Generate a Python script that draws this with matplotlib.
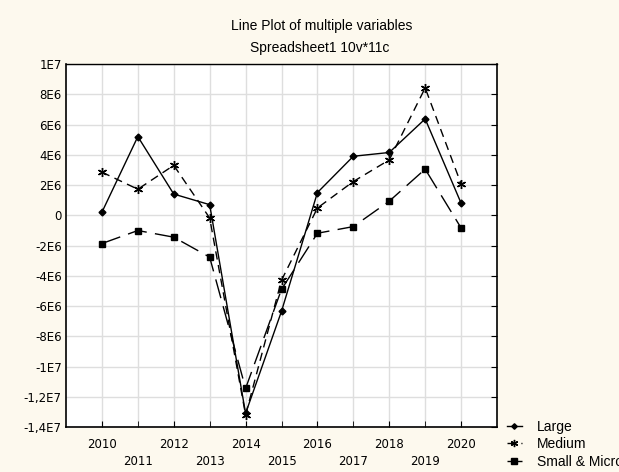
import matplotlib
matplotlib.use("Agg")
import matplotlib.pyplot as plt

plt.rcParams["font.family"] = ["Liberation Sans", "DejaVu Sans"]

years = [2010, 2011, 2012, 2013, 2014, 2015, 2016, 2017, 2018, 2019, 2020]
large = [0.2e6, 5.2e6, 1.4e6, 0.7e6, -13.1e6, -6.35e6, 1.5e6, 3.9e6, 4.15e6, 6.37e6, 0.8e6]
medium = [2.85e6, 1.72e6, 3.3e6, -0.18e6, -13.2e6, -4.3e6, 0.48e6, 2.23e6, 3.66e6, 8.42e6, 2.07e6]
small = [-1.87e6, -1.01e6, -1.45e6, -2.77e6, -11.45e6, -4.9e6, -1.19e6, -0.75e6, 0.93e6, 3.05e6, -0.84e6]
y_ticks = [1e7, 8e6, 6e6, 4e6, 2e6, 0, -2e6, -4e6, -6e6, -8e6, -1e7, -1.2e7, -1.4e7]
y_labels = ["1E7", "8E6", "6E6", "4E6", "2E6", "0", "-2E6", "-4E6", "-6E6", "-8E6",
            "-1E7", "-1,2E7", "-1,4E7"]

BG = "#fdf9ee"
TICK_FONT = "DejaVu Sans"

fig = plt.figure(figsize=(6.19, 4.72), dpi=100, facecolor=BG)
ax = fig.add_axes([66 / 619, 1 - 427 / 472, (497 - 66) / 619, (427 - 64) / 472])
ax.set_facecolor("white")

ax.plot(years, large, color="black", lw=1.0, marker="D", ms=3.5, label="Large")
ax.plot(years, medium, color="black", lw=1.0, ls=(0, (6, 4)), marker=(6, 2, 0), ms=6.5,
        mew=1.0, label="Medium")
ax.plot(years, small, color="black", lw=1.0, ls=(0, (14, 6)), marker="s", ms=5,
        label="Small & Micro")

ax.set_xlim(2009, 2021)
ax.set_ylim(-1.4e7, 1e7)
ax.set_yticks(y_ticks)
ax.set_yticklabels(y_labels, family=TICK_FONT)

# even years on the first row, odd years on the second
even = [y for y in years if y % 2 == 0]
odd = [y for y in years if y % 2 == 1]
ax.set_xticks(even)
ax.set_xticklabels([str(y) for y in even], family=TICK_FONT)
ax.set_xticks(odd, minor=True)
ax.set_xticklabels([str(y) for y in odd], minor=True, family=TICK_FONT)

ax.grid(which="both", color="#dedede", lw=1.0)
ax.set_axisbelow(True)
ax.tick_params(axis="x", which="major", direction="in", length=4, labelsize=8.5, pad=8)
ax.tick_params(axis="x", which="minor", direction="in", length=4, labelsize=8.5, pad=20)
ax.tick_params(axis="y", direction="in", length=4, labelsize=8.5, pad=3,
               left=False, right=True)
for side in ["left", "bottom", "right", "top"]:
    ax.spines[side].set_linewidth(1.2)
ax.spines["top"].set_linewidth(1.0)

fig.text(322 / 619, 1 - 26 / 472, "Line Plot of multiple variables", ha="center",
         va="center", fontsize=10)
fig.text(320 / 619, 1 - 48 / 472, "Spreadsheet1 10v*11c", ha="center",
         va="center", fontsize=10)

handles, labels = ax.get_legend_handles_labels()
fig.legend(handles, labels, loc="upper left", bbox_to_anchor=(501 / 619, 1 - 414 / 472),
           frameon=False, fontsize=10, handlelength=1.1, handletextpad=1.1,
           labelspacing=0.25, borderaxespad=0, markerscale=0.8)

fig.savefig("out.png", dpi=100, facecolor=BG)
